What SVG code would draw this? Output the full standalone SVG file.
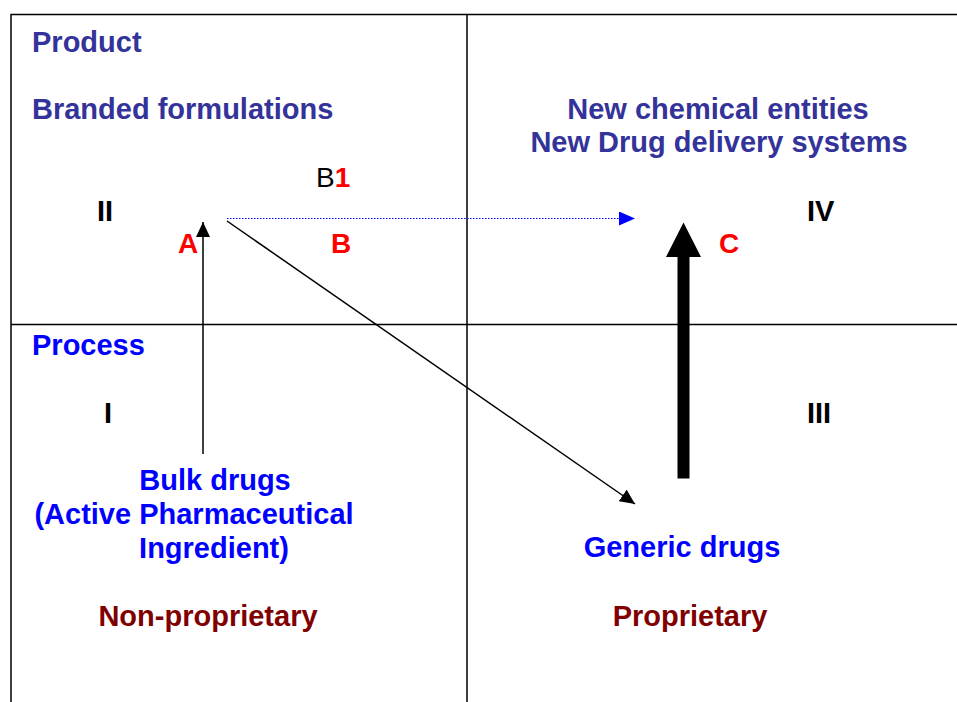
<svg xmlns="http://www.w3.org/2000/svg" width="957" height="702" viewBox="0 0 957 702">
<style>
text{font-family:"Liberation Sans",Arial,sans-serif;font-size:29px;font-weight:bold}
.dk{fill:#333399}
.bl{fill:#0000ff}
.mr{fill:#800000}
.rd{fill:#ff0000}
.k{fill:#000}
.frame{stroke:#000;stroke-width:1.5;fill:none}
</style>
<defs>
<marker id="hkd" viewBox="0 0 15 14" refX="15" refY="7" markerWidth="15" markerHeight="14" markerUnits="userSpaceOnUse" orient="auto"><path d="M0,0L15,7L0,14z" fill="#000"/></marker>
<marker id="hb" viewBox="0 0 16 14" refX="16" refY="7" markerWidth="16" markerHeight="14" markerUnits="userSpaceOnUse" orient="auto"><path d="M0,0L16,7L0,14z" fill="#0000ff"/></marker>
</defs>
<g id="grid">
<path class="frame" d="M11,702V14.5H957M467,14.5V702M11,324.5H957"/>
</g>
<g id="quadrant-II">
<text class="dk" x="32" y="52">Product</text>
<text class="dk" x="32" y="119">Branded formulations</text>
<text class="k" x="97" y="221">II</text>
<text x="316" y="187" style="font-weight:normal;font-size:28px" class="k">B<tspan class="rd" style="font-weight:bold">1</tspan></text>
<text class="rd" x="178" y="253" style="font-size:28px">A</text>
<text class="rd" x="331" y="253" style="font-size:28px">B</text>
</g>
<g id="quadrant-IV">
<text class="dk" x="718" y="119" text-anchor="middle">New chemical entities</text>
<text class="dk" x="719" y="152" text-anchor="middle">New Drug delivery systems</text>
<text class="k" x="807" y="221">IV</text>
<text class="rd" x="719" y="253" style="font-size:28px">C</text>
</g>
<g id="quadrant-I">
<text class="bl" x="32" y="355">Process</text>
<text class="k" x="104" y="423">I</text>
<text class="bl" x="215" y="490" text-anchor="middle">Bulk drugs</text>
<text class="bl" x="194" y="524" text-anchor="middle">(Active Pharmaceutical</text>
<text class="bl" x="214" y="558" text-anchor="middle">Ingredient)</text>
<text class="mr" x="208" y="626" text-anchor="middle">Non-proprietary</text>
</g>
<g id="quadrant-III">
<text class="k" x="807" y="423">III</text>
<text class="bl" x="682" y="557" text-anchor="middle">Generic drugs</text>
<text class="mr" x="690" y="626" text-anchor="middle">Proprietary</text>
</g>
<g id="connectors">
<line x1="203" y1="454" x2="203" y2="222" stroke="#000" stroke-width="1.5" marker-end="url(#hkd)"/>
<line x1="227" y1="218.5" x2="635" y2="218.5" stroke="#0000ff" stroke-width="1.2" stroke-dasharray="1.5,1.5" marker-end="url(#hb)"/>
<line x1="227" y1="221" x2="635" y2="504" stroke="#000" stroke-width="1.5" marker-end="url(#hkd)"/>
<polygon points="677.5,478.5 689.5,478.5 689.5,257 701,257 683.5,222.5 666,257 677.5,257" fill="#000"/>
</g>
</svg>
